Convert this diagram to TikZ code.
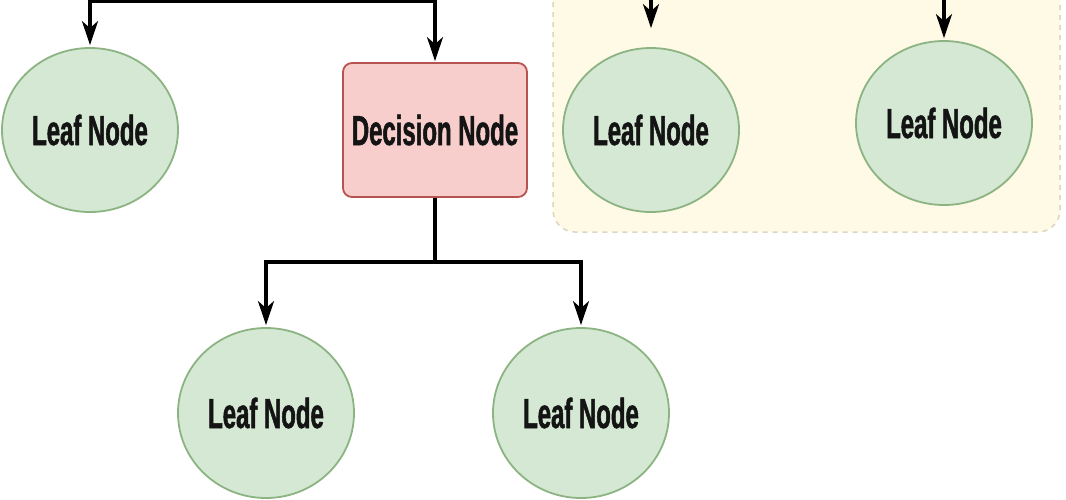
\documentclass[tikz,border=0pt]{standalone}
\usepackage{fontspec}
\setmainfont{Liberation Sans}
\newfontfamily\lblfont[FakeStretch=0.57,FakeBold=1.2]{Liberation Sans Bold}
\usetikzlibrary{arrows.meta,shapes.geometric}
\definecolor{leaffill}{HTML}{D5E8D4}
\definecolor{leafdraw}{HTML}{8CB482}
\definecolor{decfill}{HTML}{F8CECC}
\definecolor{decdraw}{HTML}{B85450}
\definecolor{grpfill}{HTML}{FFFAE6}
\definecolor{grpdraw}{HTML}{DCD6C0}
\tikzset{
  lbl/.style={font=\lblfont\fontsize{42}{48}\selectfont, text=black!92},
  leaf/.style={ellipse, lbl, draw=leafdraw, fill=leaffill, line width=1.8pt,
               minimum width=176, minimum height=164, inner sep=0pt},
  dec/.style={rectangle, rounded corners=9, lbl, draw=decdraw, fill=decfill,
              line width=1.8pt, minimum width=184, minimum height=134, inner sep=0pt},
  grp/.style={draw=grpdraw, fill=grpfill, dashed, dash pattern=on 5pt off 5pt,
              line width=1.5pt, rounded corners=22},
  conn/.style={draw=black, line width=3.3pt, -{Stealth[length=24pt,width=16pt,inset=7pt]}},
  wire/.style={draw=black, line width=3.3pt}
}
\begin{document}
\begin{tikzpicture}[x=1pt,y=-1pt]
\useasboundingbox (0,0) rectangle (1066,499);
\fill[white] (0,0) rectangle (1066,499);
\draw[grp] (553,-60) rectangle (1060,232);

\node[leaf] (l1) at (90,130) {Leaf Node};
\node[dec]  (d)  at (435,130) {Decision Node};
\node[leaf, minimum height=170] (l2) at (266,413) {Leaf Node};
\node[leaf, minimum height=170] (l3) at (581,413) {Leaf Node};
\node[leaf] (l4) at (651,130) {Leaf Node};
\node[leaf] (l5) at (944,123) {Leaf Node};

\coordinate (tj) at (262,1.5);
\coordinate (t4) at (651,-10);
\coordinate (t5) at (944,-10);
\coordinate (bj) at (435,262);

\draw[conn, shorten >=2pt] (tj) -| (l1);
\draw[conn, shorten >=1pt] (tj) -| (d);
\draw[conn, shorten >=19pt] (t4) -- (l4);
\draw[conn, shorten >=2pt] (t5) -- (l5);
\draw[wire] (d) -- (bj);
\draw[conn, shorten >=2pt] (bj) -| (l2);
\draw[conn, shorten >=2pt] (bj) -| (l3);
\end{tikzpicture}
\end{document}
